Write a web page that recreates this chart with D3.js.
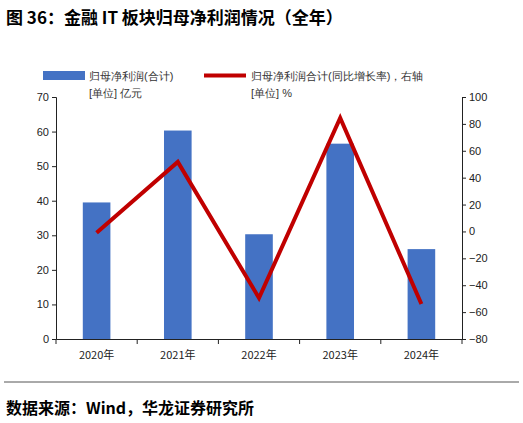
<!DOCTYPE html>
<html><head><meta charset="utf-8">
<script src="https://cdn.jsdelivr.net/npm/d3@7"></script>
<style>
body{margin:0;background:#fff;}
text{font-family:"Liberation Sans",Arial,sans-serif;}
.cjk{font-family:"Noto Sans CJK SC",sans-serif;}
</style></head><body>
<svg id="c" width="523" height="423"></svg>
<script>
const years = ["2020年", "2021年", "2022年", "2023年", "2024年"];
const profit = [39.5, 60.3, 30.3, 56.5, 26.0];
const growth = [-1, 51.7, -49.5, 84.4, -54];
const leftTicks = [0, 10, 20, 30, 40, 50, 60, 70];
const rightTicks = [-80, -60, -40, -20, 0, 20, 40, 60, 80, 100];

const svg = d3.select("#c");
const L = 56, R = 462, T = 97, B = 339;

svg.append("text").attr("class", "cjk").attr("x", 6).attr("y", 24)
  .attr("font-size", 17).attr("font-weight", "bold").text("图 36：金融 IT 板块归母净利润情况（全年）");
svg.append("line").attr("x1", 4).attr("x2", 519).attr("y1", 382).attr("y2", 382)
  .attr("stroke", "#555").attr("stroke-width", 1);
svg.append("text").attr("class", "cjk").attr("x", 6).attr("y", 414)
  .attr("font-size", 16).attr("font-weight", "bold").text("数据来源：Wind，华龙证券研究所");

const x = d3.scaleBand().domain(years).range([L, R]).paddingInner(0.66).paddingOuter(0.33);
const y = d3.scaleLinear().domain([0, 70]).range([B, T]);
const y2 = d3.scaleLinear().domain([-80, 100]).range([B, T]);

svg.append("g").selectAll("rect").data(profit).enter().append("rect")
  .attr("x", (_, i) => x(years[i])).attr("width", x.bandwidth())
  .attr("y", d => y(d)).attr("height", d => B - y(d)).attr("fill", "#4472c4");

const line = d3.line().x((_, i) => x(years[i]) + x.bandwidth() / 2).y(d => y2(d));
svg.append("path").attr("d", line(growth)).attr("fill", "none")
  .attr("stroke", "#c00000").attr("stroke-width", 4);

const ax = g => { g.selectAll("text").attr("font-size", 11).attr("fill", "#222"); g.selectAll("line,path").attr("stroke", "#222"); };
svg.append("g").attr("transform", `translate(${L},0)`)
  .call(d3.axisLeft(y).tickValues(leftTicks).tickSize(4).tickSizeOuter(4)).call(ax);
svg.append("g").attr("transform", `translate(${R},0)`)
  .call(d3.axisRight(y2).tickValues(rightTicks).tickSize(4).tickSizeOuter(4)
    .tickFormat(d => d < 0 ? "−" + Math.abs(d) : d)).call(ax);
const xg = svg.append("g").attr("transform", `translate(0,${B})`)
  .call(d3.axisBottom(x).tickSize(0).tickPadding(12)).call(ax);
xg.selectAll("text").attr("class", "cjk").attr("font-size", 11);
const edges = [...years.map(c => x(c) - x.step() * x.paddingInner() / 2 / (1) ), R];
xg.selectAll(".sep").data([L, ...years.slice(1).map(c => x(c) - (x.step() - x.bandwidth()) / 2), R])
  .enter().append("line").attr("x1", d => d).attr("x2", d => d).attr("y1", 0).attr("y2", 5).attr("stroke", "#222");

const lg = svg.append("g").attr("class", "cjk").attr("font-size", 11).attr("fill", "#333");
lg.append("rect").attr("x", 43).attr("y", 71).attr("width", 42).attr("height", 9).attr("fill", "#4472c4");
lg.append("text").attr("x", 89).attr("y", 80).text("归母净利润(合计)");
lg.append("text").attr("x", 89).attr("y", 97).text("[单位] 亿元");
lg.append("line").attr("x1", 204).attr("x2", 246).attr("y1", 75.5).attr("y2", 75.5).attr("stroke", "#c00000").attr("stroke-width", 4);
lg.append("text").attr("x", 251).attr("y", 80).text("归母净利润合计(同比增长率)，右轴");
lg.append("text").attr("x", 251).attr("y", 97).text("[单位] %");
</script></body></html>
